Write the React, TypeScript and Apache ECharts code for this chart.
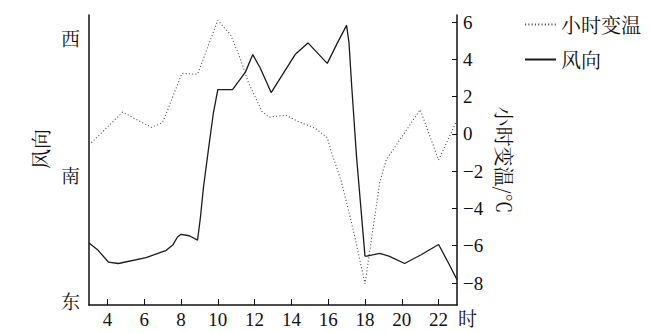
import React, { useEffect, useRef } from "react";
import * as echarts from "echarts";

// hour of day (x) for wind-direction readings
const windHours = [3, 3.5, 4.05, 4.6, 6.1, 7.2, 7.55, 7.8, 8.0, 8.45, 8.9, 9.06, 9.22, 9.49, 9.76, 10.0, 10.8, 11.5, 11.9, 12.3, 12.9, 14.2, 14.9, 15.95, 16.5, 17.0, 17.13, 17.28, 17.54, 18.0, 18.1, 18.8, 19.3, 20.15, 21.05, 22.0, 22.55, 23.0];
// wind direction in degrees (90 = 东, 180 = 南, 270 = 西)
const windDir = [129, 124, 116, 115, 119, 124, 127.6, 133, 135, 134, 131, 147, 167, 193, 218, 234, 234, 246, 258, 249, 232, 258, 266, 252, 266, 278, 266, 236, 188, 120, 120, 122, 120, 115, 121, 128, 115, 104];

// hour of day (x) for hourly temperature change readings
const tempHours = [3, 4.83, 6.0, 6.4, 7.0, 8.05, 8.9, 10.0, 10.7, 11.2, 11.65, 12.4, 12.8, 13.7, 14.4, 15.3, 15.95, 16.15, 16.7, 17.4, 18.0, 18.8, 19.15, 21.0, 22.0, 23.0];
// hourly temperature change in °C
const tempChange = [-0.6, 1.17, 0.55, 0.35, 0.6, 3.25, 3.2, 6.1, 5.3, 4.1, 2.8, 1.2, 0.9, 1.0, 0.65, 0.3, -0.2, -0.9, -2.5, -5.3, -8.05, -2.6, -1.4, 1.3, -1.4, 0.75];

const xTicks = [4, 6, 8, 10, 12, 14, 16, 18, 20, 22];
const tempTicks = [-8, -6, -4, -2, 0, 2, 4, 6];
const dirTicks = [90, 176, 270];
const dirLabels = ["东", "南", "西"];

const LATIN = "Liberation Serif";
const CJK = "Noto Serif CJK SC";

export default function App() {
  const ref = useRef<HTMLDivElement>(null);
  useEffect(() => {
    if (!ref.current) return;
    const chart = echarts.init(ref.current, null, { renderer: "svg" });
    const windData = windHours.map((h, i) => [h, windDir[i]]);
    const tempData = tempHours.map((h, i) => [h, tempChange[i]]);
    chart.setOption({
      animation: false,
      backgroundColor: "#fff",
      textStyle: { fontFamily: LATIN, color: "#111" },
      grid: { left: 89, right: 194, top: 15, bottom: 28 },
      legend: {
        orient: "vertical",
        left: 524,
        top: 14,
        padding: 0,
        itemWidth: 31,
        itemHeight: 14,
        itemGap: 14,
        itemStyle: { opacity: 0 },
        textStyle: { fontSize: 20, lineHeight: 21, fontFamily: CJK, color: "#111" },
        data: ["小时变温", "风向"],
      },
      xAxis: {
        type: "value",
        min: 3,
        max: 23,
        name: "时",
        nameLocation: "end",
        nameGap: 1,
        nameTextStyle: { fontSize: 19, fontFamily: CJK, color: "#111", verticalAlign: "top", align: "left", padding: [3, 0, 0, 0] },
        axisLine: { onZero: false, lineStyle: { color: "#111", width: 1.5 } },
        axisTick: { inside: true, length: 6, customValues: xTicks, lineStyle: { color: "#111" } },
        axisLabel: { customValues: xTicks, fontSize: 19, margin: 5, color: "#111", fontFamily: LATIN },
        splitLine: { show: false },
      },
      yAxis: [
        {
          type: "value",
          position: "left",
          min: 86.6,
          max: 285.1,
          name: "风向",
          nameLocation: "middle",
          nameRotate: 90,
          nameGap: 38,
          nameTextStyle: { fontSize: 20, fontFamily: CJK, color: "#111", padding: [0, 0, 0, 22] },
          axisLine: { show: true, onZero: false, lineStyle: { color: "#111", width: 1.5 } },
          axisTick: { show: false },
          axisLabel: {
            customValues: dirTicks,
            fontSize: 19,
            margin: 9,
            color: "#111",
            fontFamily: CJK,
            formatter: (v: number) => dirLabels[dirTicks.indexOf(v)] ?? "",
          },
          splitLine: { show: false },
        },
        {
          type: "value",
          position: "right",
          min: -9.18,
          max: 6.38,
          name: "小时变温/℃",
          nameLocation: "middle",
          nameRotate: -90,
          nameGap: 34,
          nameTextStyle: { fontSize: 20, fontFamily: CJK, color: "#111" },
          axisLine: { show: true, onZero: false, lineStyle: { color: "#111", width: 1.5 } },
          axisTick: { inside: true, length: 5, customValues: tempTicks, lineStyle: { color: "#111" } },
          axisLabel: {
            customValues: tempTicks,
            fontSize: 19,
            margin: 6,
            color: "#111",
            fontFamily: LATIN,
            formatter: (v: number) => String(v).replace("-", "−"),
          },
          splitLine: { show: false },
        },
      ],
      series: [
        {
          name: "小时变温",
          type: "line",
          yAxisIndex: 1,
          data: tempData,
          symbol: "none",
          lineStyle: { color: "#555", width: 1.1, type: [1.1, 2.2] },
          itemStyle: { color: "#555" },
        },
        {
          name: "风向",
          type: "line",
          yAxisIndex: 0,
          data: windData,
          symbol: "none",
          lineStyle: { color: "#1a1a1a", width: 1.3 },
          itemStyle: { color: "#1a1a1a" },
        },
      ],
    });
    return () => chart.dispose();
  }, []);
  return <div ref={ref} style={{ position: "fixed", left: 0, top: 0, width: 651, height: 333 }} />;
}
